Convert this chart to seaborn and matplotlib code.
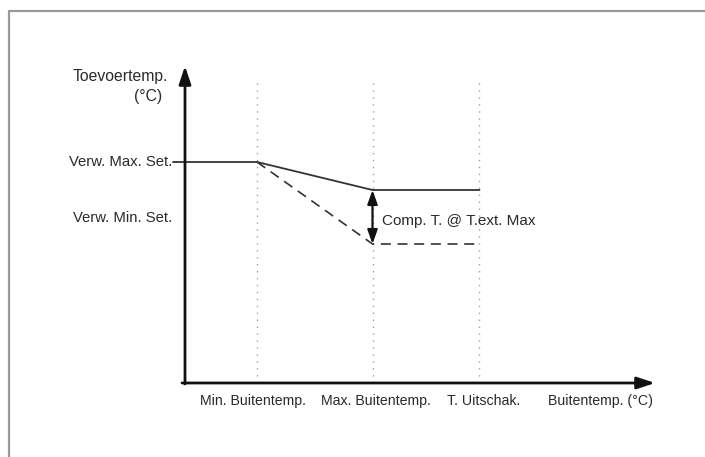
import matplotlib
matplotlib.use("Agg")
import matplotlib.pyplot as plt
from matplotlib.lines import Line2D
import seaborn as sns
import pandas as pd

# ---- data (schematic units) ----
x_tick_labels = ["Min. Buitentemp.", "Max. Buitentemp.", "T. Uitschak."]
x_tick_pos = [7.2, 18.75, 29.45]
y_tick_labels = ["Verw. Max. Set.", "Verw. Min. Set."]
y_tick_pos = [22.1, 16.5]
solid_x = [-1.2, 7.2, 18.75, 29.45]
solid_y = [22.1, 22.1, 19.3, 19.3]
dashed_x = [7.2, 18.75, 29.45]
dashed_y = [22.1, 13.9, 13.9]
comp_label = "Comp. T. @ T.ext. Max"
x_axis_label = "Buitentemp. (°C)"
y_axis_label = ["Toevoertemp.", "(°C)"]

sns.set_theme(style="white")
plt.rcParams["font.family"] = ["Liberation Sans", "DejaVu Sans"]

W, H = 705, 457
fig = plt.figure(figsize=(W / 100, H / 100), dpi=100)
fig.patch.set_facecolor("white")

# outer frame
fig.add_artist(Line2D([9 / W, 1], [1 - 11 / H, 1 - 11 / H], color="#999999", lw=1.6, transform=fig.transFigure))
fig.add_artist(Line2D([9 / W, 9 / W], [0, 1 - 11 / H], color="#999999", lw=1.6, transform=fig.transFigure))

ax = fig.add_axes([185 / W, (H - 383) / H, 470 / W, 317 / H])

txtc = "#2a2a2a"

# dotted verticals
for xp in x_tick_pos:
    ax.plot([xp, xp], [0, 30.1], color="#a0a0a0", lw=1.0, ls=(0, (1, 4)), clip_on=False, zorder=1)

df_s = pd.DataFrame({"x": solid_x, "y": solid_y})
df_d = pd.DataFrame({"x": dashed_x, "y": dashed_y})
sns.lineplot(data=df_s, x="x", y="y", sort=False, color="#333333", lw=1.3, ax=ax, clip_on=False, zorder=3)
sns.lineplot(data=df_d, x="x", y="y", sort=False, color="#333333", lw=1.2, ax=ax, clip_on=False,
             zorder=3, linestyle=(0, (6, 4)))
ax.set_xlim(0, 47)
ax.set_ylim(0, 31.7)
ax.axis("off")

# axes arrows
ax.annotate("", xy=(47, 0), xytext=(-0.3, 0),
            arrowprops=dict(arrowstyle="-|>,head_length=0.9,head_width=0.3", color="#111111", lw=2.0,
                            shrinkA=0, shrinkB=0), annotation_clip=False)
ax.annotate("", xy=(0, 31.7), xytext=(0, -0.1),
            arrowprops=dict(arrowstyle="-|>,head_length=0.9,head_width=0.3", color="#111111", lw=2.0,
                            shrinkA=0, shrinkB=0), annotation_clip=False)

# double arrow
ax.annotate("", xy=(x_tick_pos[1], dashed_y[-1]), xytext=(x_tick_pos[1], solid_y[-1]),
            arrowprops=dict(arrowstyle="<|-|>,head_length=0.7,head_width=0.25", color="#111111", lw=1.6,
                            shrinkA=0, shrinkB=0), annotation_clip=False)
ax.text(19.7, 16.2, comp_label, ha="left", va="center", fontsize=11.0, color=txtc)

# tick labels
x_offsets = [-0.45, 0.3, 0.45]
for lab, xp, dx in zip(x_tick_labels, x_tick_pos, x_offsets):
    ax.text(xp + dx, -1.8, lab, ha="center", va="center", fontsize=10.2, color=txtc, clip_on=False)
ax.text(41.55, -1.8, x_axis_label, ha="center", va="center", fontsize=10.2, color=txtc, clip_on=False)
for lab, yp in zip(y_tick_labels, y_tick_pos):
    ax.text(-1.25, yp, lab, ha="right", va="center", fontsize=10.7, color=txtc, clip_on=False)
ax.text(-1.7, 30.7, y_axis_label[0], ha="right", va="center", fontsize=11.3, color=txtc, clip_on=False)
ax.text(-2.3, 28.7, y_axis_label[1], ha="right", va="center", fontsize=11.3, color=txtc, clip_on=False)

fig.savefig("out.png", dpi=100)
